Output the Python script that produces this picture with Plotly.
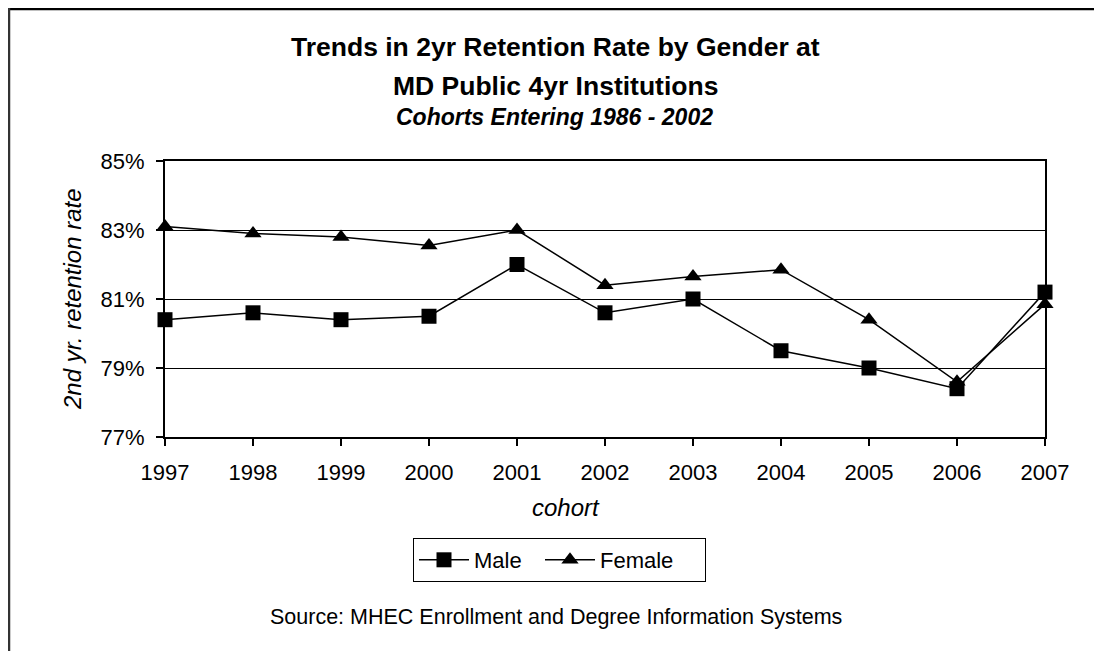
import plotly.graph_objects as go

years = [1997, 1998, 1999, 2000, 2001, 2002, 2003, 2004, 2005, 2006, 2007]
male = [80.4, 80.6, 80.4, 80.5, 82.0, 80.6, 81.0, 79.5, 79.0, 78.4, 81.2]
female = [83.1, 82.9, 82.8, 82.55, 83.0, 81.4, 81.65, 81.85, 80.4, 78.6, 80.85]
y_ticks = [77, 79, 81, 83, 85]

FONT = "Liberation Sans, Arial, sans-serif"

# page has an 8px body margin; figure placed at page (8, 8)
OFF = 8
W, H = 1102 - OFF, 651 - OFF
L, R, T, B = 165 - OFF, 57, 161 - OFF, 214
PW, PH = W - L - R, H - T - B


def px_x(p):
    return (p - OFF - L) / PW


def px_y(p):
    return (H - B - (p - OFF)) / PH


fig = go.Figure()
fig.add_trace(go.Scatter(
    x=years, y=male, name="Male", mode="lines+markers",
    line=dict(color="black", width=1.5),
    marker=dict(symbol="square", size=15, color="black"),
    cliponaxis=False,
))
fig.add_trace(go.Scatter(
    x=years, y=female, name="Female", mode="lines+markers",
    line=dict(color="black", width=1.5),
    marker=dict(symbol="triangle-up", size=15, color="black"),
    cliponaxis=False, legendwidth=100,
))

fig.update_layout(
    width=W, height=H,
    margin=dict(l=L, r=R, t=T, b=B, autoexpand=False),
    paper_bgcolor="white", plot_bgcolor="white",
    font=dict(family=FONT, color="black", size=22),
    showlegend=True,
    legend=dict(
        orientation="h", x=px_x(413), y=px_y(538), xanchor="left", yanchor="top",
        bordercolor="black", borderwidth=1, font=dict(size=22, family=FONT),
        entrywidth=61, itemwidth=50, tracegroupgap=0,
    ),
    xaxis=dict(
        range=[1997, 2007], tickvals=years, ticktext=[str(y) for y in years],
        showgrid=False, zeroline=False,
        showline=True, linecolor="black", linewidth=2, mirror=True,
        ticks="outside", ticklen=7, tickcolor="black", tickwidth=1.5,
        tickfont=dict(size=22, family=FONT), ticklabelstandoff=8,
    ),
    yaxis=dict(
        range=[77, 85], tickvals=y_ticks, ticktext=[f"{v}%" for v in y_ticks],
        showgrid=True, gridcolor="black", gridwidth=1.3, zeroline=False,
        showline=True, linecolor="black", linewidth=2, mirror=True,
        ticks="outside", ticklen=7, tickcolor="black", tickwidth=1.5,
        tickfont=dict(size=22, family=FONT), ticklabelstandoff=7,
    ),
)

annotations = [
    dict(text="<b>Trends in 2yr Retention Rate by Gender at</b>", x=px_x(555), y=px_y(47),
         font=dict(size=26.5, family=FONT)),
    dict(text="<b>MD Public 4yr Institutions</b>", x=px_x(555), y=px_y(86),
         font=dict(size=26.5, family=FONT)),
    dict(text="<b><i>Cohorts Entering 1986 - 2002</i></b>", x=px_x(554), y=px_y(117),
         font=dict(size=23, family=FONT)),
    dict(text="<i>2nd yr. retention rate</i>", x=px_x(72), y=0.5, textangle=-90,
         font=dict(size=24, family=FONT)),
    dict(text="<i>cohort</i>", x=px_x(566), y=px_y(507),
         font=dict(size=24, family=FONT)),
    dict(text="Source: MHEC Enrollment and Degree Information Systems", x=px_x(556), y=px_y(617),
         font=dict(size=21.5, family=FONT)),
]
for a in annotations:
    a.update(xref="paper", yref="paper", showarrow=False, xanchor="center", yanchor="middle")
    fig.add_annotation(**a)

# outer chart frame (only top and left edges are visible in the picture)
fig.add_shape(type="line", xref="paper", yref="paper",
              x0=px_x(OFF), x1=px_x(1110), y0=px_y(OFF + 1), y1=px_y(OFF + 1),
              line=dict(color="black", width=2.5))
fig.add_shape(type="line", xref="paper", yref="paper",
              x0=px_x(OFF + 1), x1=px_x(OFF + 1), y0=px_y(OFF), y1=px_y(660),
              line=dict(color="#333333", width=2.5))

fig.write_html("out.html")
